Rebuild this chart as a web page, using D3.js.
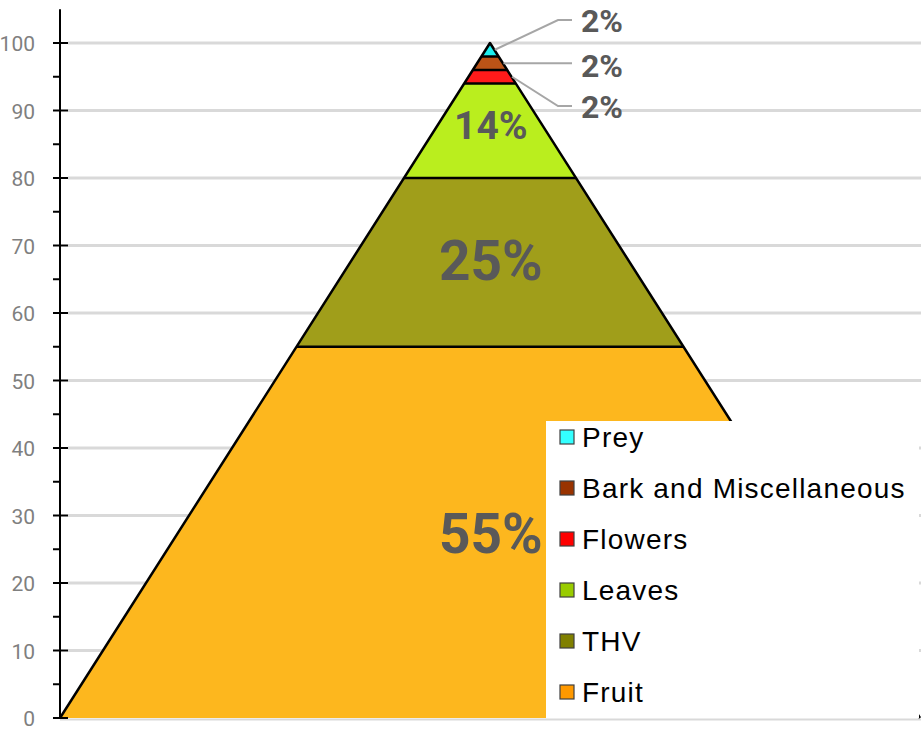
<!DOCTYPE html>
<html>
<head>
<meta charset="utf-8">
<script src="https://cdn.jsdelivr.net/npm/d3@7"></script>
<style>
  body { margin: 0; background: #fff; }
  svg { display: block; }
</style>
</head>
<body>
<div id="chart"></div>
<script>
// Diet shares, bottom layer of the pyramid first
var categories = ["Fruit", "THV", "Leaves", "Flowers", "Bark and Miscellaneous", "Prey"];
var shares = [55, 25, 14, 2, 2, 2];
var layerColors = ["#FDB71E", "#A09E1A", "#BAEE1E", "#FF1A1A", "#BB5317", "#1EEEEE"];
var legendColors = ["#FF9900", "#808000", "#99CC00", "#FF0000", "#993300", "#33FFFF"];
var yTickValues = [0, 10, 20, 30, 40, 50, 60, 70, 80, 90, 100];
var yMinorValues = [5, 15, 25, 35, 45, 55, 65, 75, 85, 95];

var svgWidth = 924;
var svgHeight = 734;

var svg = d3.select("#chart")
    .append("svg")
    .attr("width", svgWidth)
    .attr("height", svgHeight);

var yScale = d3.scaleLinear().domain([0, 100]).range([718, 43]);
// horizontal position relative to the pyramid centre, base spans the plot width
var xScale = d3.scaleLinear().domain([-50, 50]).range([60, 920]);
var halfWidth = v => 50 * (1 - v / 100);

// stack the layers
var layers = [];
var acc = 0;
shares.forEach((s, i) => {
    layers.push({name: categories[i], value: s, lo: acc, hi: acc + s, color: layerColors[i]});
    acc += s;
});

// gridlines
svg.append("g").selectAll("line")
    .data(yTickValues.filter(d => d > 0))
    .enter()
    .append("line")
    .attr("x1", 68).attr("x2", 921)
    .attr("y1", d => yScale(d)).attr("y2", d => yScale(d))
    .attr("stroke", "#d9d9d9")
    .attr("stroke-width", 3);

// baseline
svg.append("line")
    .attr("x1", 60).attr("x2", 921)
    .attr("y1", yScale(0) + 1.5).attr("y2", yScale(0) + 1.5)
    .attr("stroke", "#d9d9d9")
    .attr("stroke-width", 2);

// pyramid layers
var pyr = svg.append("g");
pyr.selectAll("path.layer")
    .data(layers)
    .enter()
    .append("path")
    .attr("class", "layer")
    .attr("d", d => {
        var pts = [
            [xScale(-halfWidth(d.lo)), yScale(d.lo)],
            [xScale(halfWidth(d.lo)), yScale(d.lo)],
            [xScale(halfWidth(d.hi)), yScale(d.hi)],
            [xScale(-halfWidth(d.hi)), yScale(d.hi)]
        ];
        return "M" + pts.join("L") + "Z";
    })
    .attr("fill", d => d.color);

// outline: sides and layer boundaries, no bottom edge
pyr.append("path")
    .attr("d", "M" + [[xScale(-50), yScale(0)], [xScale(0), yScale(100)], [xScale(50), yScale(0)]].join("L"))
    .attr("fill", "none")
    .attr("stroke", "#000")
    .attr("stroke-width", 2.5)
    .attr("stroke-linejoin", "round");
pyr.selectAll("line.sep")
    .data(layers.slice(1))
    .enter()
    .append("line")
    .attr("class", "sep")
    .attr("x1", d => xScale(-halfWidth(d.lo)))
    .attr("x2", d => xScale(halfWidth(d.lo)))
    .attr("y1", d => yScale(d.lo))
    .attr("y2", d => yScale(d.lo))
    .attr("stroke", "#000")
    .attr("stroke-width", 2.5);

// in-layer labels for the big layers
var bigSizes = {"Fruit": 55, "THV": 55, "Leaves": 39};
var bigDy = {"Fruit": 2, "THV": -1, "Leaves": -5};
svg.append("g").selectAll("text")
    .data(layers.filter(d => d.value > 5))
    .enter()
    .append("text")
    .attr("x", xScale(0.1))
    .attr("y", d => yScale((d.lo + d.hi) / 2) + bigDy[d.name])
    .attr("text-anchor", "middle")
    .attr("dominant-baseline", "central")
    .attr("font-family", "Roboto, sans-serif")
    .attr("font-weight", "bold")
    .attr("font-size", d => bigSizes[d.name])
    .attr("fill", "#595959")
    .text(d => d.value + "%");

// small layers get labels to the right with leader lines
var small = layers.filter(d => d.value <= 5).reverse(); // Prey, Bark, Flowers
var calloutLineY = [20, null, 106];
var calloutTextY = [21, 66, 107];
var callouts = svg.append("g");
small.forEach((d, i) => {
    var mid = (d.lo + d.hi) / 2;
    var ax = xScale(halfWidth(mid)) + 0.5;
    var ay = yScale(mid);
    var ly = calloutLineY[i] === null ? ay : calloutLineY[i];
    var pts = calloutLineY[i] === null ? [[572, ly], [ax, ay]] : [[572, ly], [558, ly], [ax, ay]];
    callouts.append("path")
        .attr("d", "M" + pts.join("L"))
        .attr("fill", "none")
        .attr("stroke", "#a6a6a6")
        .attr("stroke-width", 2);
    callouts.append("text")
        .attr("x", 581)
        .attr("y", calloutTextY[i])
        .attr("dominant-baseline", "central")
        .attr("font-family", "Roboto, sans-serif")
        .attr("font-weight", "bold")
        .attr("font-size", 32)
        .attr("fill", "#595959")
        .text(d.value + "%");
});

// y axis
var axis = svg.append("g");
axis.append("line")
    .attr("x1", 60).attr("x2", 60)
    .attr("y1", yScale(105)).attr("y2", yScale(0))
    .attr("stroke", "#000")
    .attr("stroke-width", 2);
axis.selectAll("line.major")
    .data(yTickValues)
    .enter()
    .append("line")
    .attr("class", "major")
    .attr("x1", 53).attr("x2", 68)
    .attr("y1", d => yScale(d)).attr("y2", d => yScale(d))
    .attr("stroke", "#000")
    .attr("stroke-width", 2);
axis.selectAll("line.minor")
    .data(yMinorValues)
    .enter()
    .append("line")
    .attr("class", "minor")
    .attr("x1", 53).attr("x2", 60)
    .attr("y1", d => yScale(d)).attr("y2", d => yScale(d))
    .attr("stroke", "#000")
    .attr("stroke-width", 2);
axis.selectAll("text")
    .data(yTickValues)
    .enter()
    .append("text")
    .attr("x", 35)
    .attr("y", d => yScale(d) + 1)
    .attr("text-anchor", "end")
    .attr("dominant-baseline", "central")
    .attr("font-family", "Roboto, sans-serif")
    .attr("font-size", 21)
    .attr("fill", "#7f7f7f")
    .text(d => d);

// legend box on top of the pyramid
var legend = svg.append("g");
legend.append("rect")
    .attr("x", 546).attr("y", 421)
    .attr("width", 373).attr("height", 297)
    .attr("fill", "#fff");
var legendItems = categories.map((c, i) => ({name: c, color: legendColors[i]})).reverse();
var items = legend.selectAll("g.item")
    .data(legendItems)
    .enter()
    .append("g")
    .attr("class", "item")
    .attr("transform", (d, i) => `translate(0, ${447 + i * 51})`);
items.append("rect")
    .attr("x", 560).attr("y", -17)
    .attr("width", 14).attr("height", 14)
    .attr("fill", d => d.color)
    .attr("stroke", "#404040")
    .attr("stroke-width", 1.2);
items.append("text")
    .attr("x", 582)
    .attr("y", 0)
    .attr("font-family", "'Liberation Sans', Arial, sans-serif")
    .attr("font-size", 28)
    .attr("letter-spacing", 1.2)
    .attr("fill", "#000")
    .text(d => d.name);
</script>
</body>
</html>
